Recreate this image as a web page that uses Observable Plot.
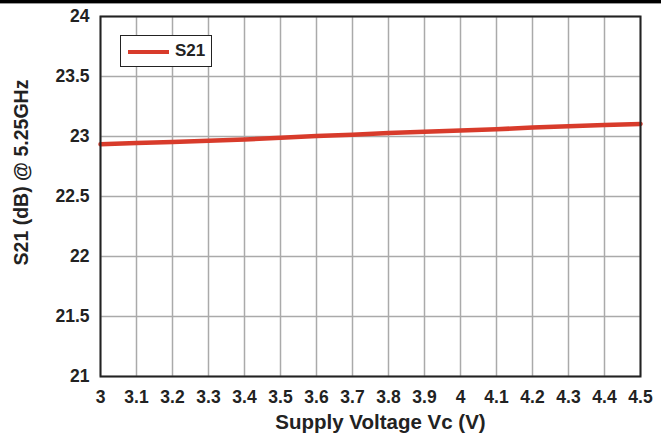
<!DOCTYPE html>
<html><head><meta charset="utf-8">
<script src="https://cdn.jsdelivr.net/npm/d3@7"></script>
<script src="https://cdn.jsdelivr.net/npm/@observablehq/plot@0.6"></script>
<style>
body{margin:0;background:#fff;font-family:"Liberation Sans",Arial,sans-serif;}
#wrap{position:relative;width:661px;height:436px;overflow:hidden;}
#topbar{height:3px;background:#000;border-bottom:1px solid #999;}
#legend{position:absolute;left:120px;top:35px;width:92px;height:32px;border:1.5px solid #222;background:#fff;box-sizing:border-box;}
#legend .sw{position:absolute;left:7px;top:14px;width:41px;height:4px;background:#d83b2b;}
#legend .lb{position:absolute;left:54px;top:5px;font-weight:bold;font-size:17px;color:#222;}
</style></head>
<body><div id="wrap"><div id="topbar"></div><div id="chart"></div>
<div id="legend"><div class="sw"></div><div class="lb">S21</div></div></div>
<script>
const voltage = [3,3.1,3.2,3.3,3.4,3.5,3.6,3.7,3.8,3.9,4,4.1,4.2,4.3,4.4,4.5];
const s21 = [22.935,22.945,22.955,22.965,22.975,22.99,23.005,23.015,23.03,23.04,23.05,23.06,23.075,23.085,23.095,23.105];
const xTicks = [3,3.1,3.2,3.3,3.4,3.5,3.6,3.7,3.8,3.9,4,4.1,4.2,4.3,4.4,4.5];
const yTicks = [21,21.5,22,22.5,23,23.5,24];
const data = voltage.map((v,i)=>({v, s: s21[i]}));
const chart = Plot.plot({
  width: 661, height: 432,
  marginTop: 12, marginBottom: 60, marginLeft: 100, marginRight: 21,
  style: {fontFamily: '"Liberation Sans",Arial,sans-serif', fontWeight: "bold", fontSize: "17.5px", color: "#222", background: "#fff"},
  x: {domain: [3,4.5], ticks: xTicks, tickFormat: d => String(+d.toFixed(1)), tickSize: 0, tickPadding: 14,
      label: "Supply Voltage Vc (V)", labelAnchor: "center", labelArrow: "none", labelOffset: 52},
  y: {domain: [21,24], ticks: yTicks, tickFormat: d => String(d), tickSize: 0, tickPadding: 11,
      label: "S21 (dB) @ 5.25GHz", labelAnchor: "center", labelArrow: "none", labelOffset: 86},
  marks: [
    Plot.gridX(xTicks, {stroke: "#aaa", strokeOpacity: 1, strokeWidth: 1.5}),
    Plot.gridY(yTicks, {stroke: "#aaa", strokeOpacity: 1, strokeWidth: 1.5}),
    Plot.line(data, {x: "v", y: "s", stroke: "#d83b2b", strokeWidth: 4.5}),
    Plot.frame({stroke: "#222", strokeWidth: 2})
  ]
});
const xl = chart.querySelector('[aria-label="x-axis label"]');
const yl = chart.querySelector('[aria-label="y-axis label"]');
if (xl) { xl.querySelectorAll("text").forEach(t=>t.style.fontSize="20.5px"); xl.setAttribute("transform", (xl.getAttribute("transform")||"") + " translate(10,0)"); }
if (yl) { yl.querySelectorAll("text").forEach(t=>t.style.fontSize="19.5px"); yl.setAttribute("transform", (yl.getAttribute("transform")||"") + " translate(0,-24)"); }
document.getElementById("chart").appendChild(chart);
</script></body></html>
